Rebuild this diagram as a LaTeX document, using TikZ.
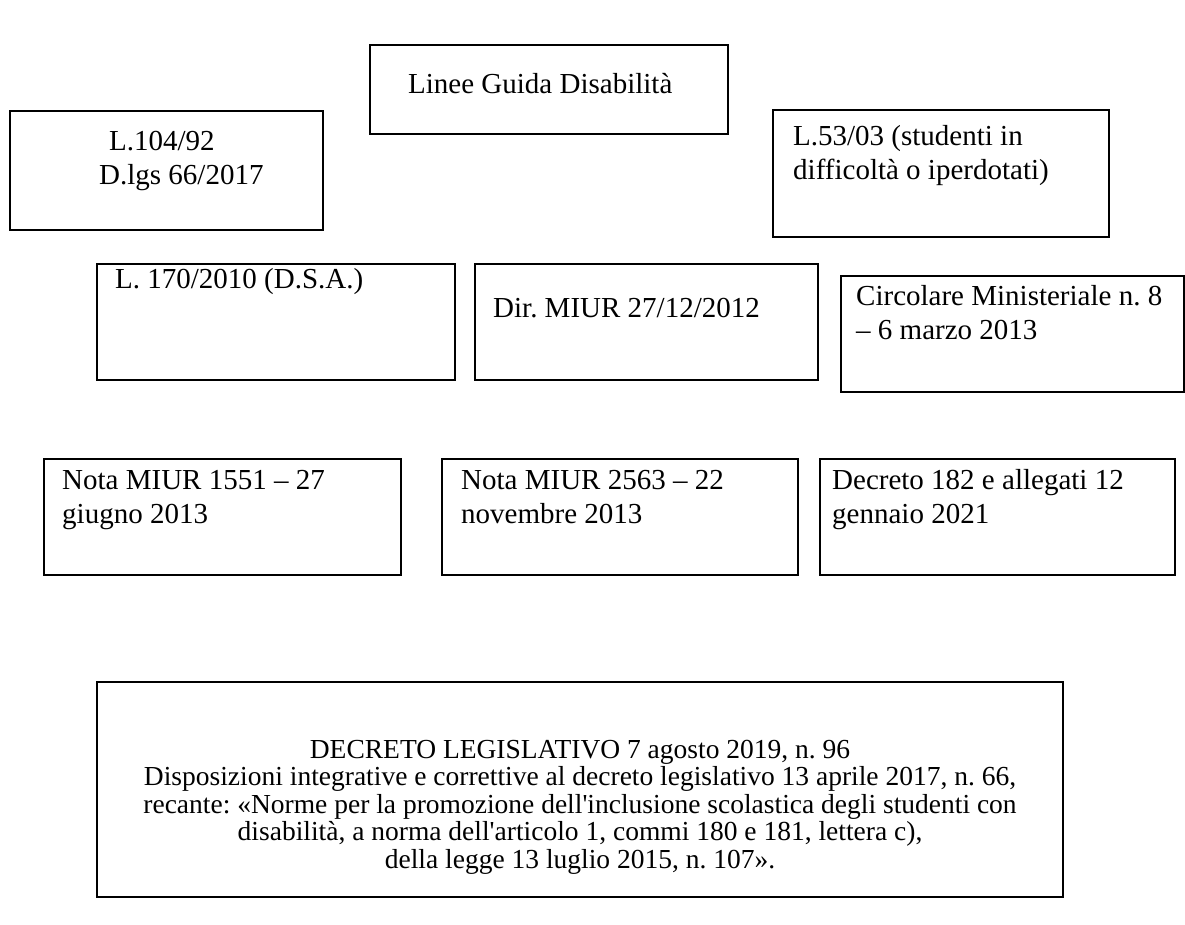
\documentclass[tikz,border=0pt]{standalone}
\usepackage{fontspec}
\newfontfamily\docfont{Liberation Serif}
\usepackage{tikz}
\frenchspacing
\newcommand{\leftlines}[1]{\begin{tabular}[t]{@{}l@{}}#1\end{tabular}}
\newcommand{\centerlines}[1]{\begin{tabular}[t]{@{}c@{}}#1\end{tabular}}
\tikzset{
	docbox/.style   = {draw, line width=1.6pt, rectangle, inner sep=0pt},
	doctext/.style  = {anchor=base west, inner sep=0pt,
		font=\docfont\fontsize{29}{34}\selectfont},
	decrtext/.style = {anchor=base, inner sep=0pt,
		font=\docfont\fontsize{27.5}{27.5}\selectfont},
}

\begin{document}
\begin{tikzpicture}[ x=1pt,                  %<--one unit is one pixel
					y=-1pt,                  %<--y grows downwards, as on the sheet
					every node/.style={scale=1} ]

	\useasboundingbox (0,0) rectangle (1185,924);

	\draw%-----------------------------------------------------------------------------------------
	%Drawing the Boxes:
	node(guida) at (549,89.5)   [docbox, minimum width=358pt, minimum height=89pt] {}
	node(l104)  at (166.5,170.5)[docbox, minimum width=313pt, minimum height=119pt] {}
	node(l53)   at (941,173.5)  [docbox, minimum width=336pt, minimum height=127pt] {}
	node(l170)  at (276,322)    [docbox, minimum width=358pt, minimum height=116pt] {}
	node(dir)   at (646.5,322)  [docbox, minimum width=343pt, minimum height=116pt] {}
	node(circ)  at (1012.5,334) [docbox, minimum width=343pt, minimum height=116pt] {}
	node(nota1) at (222.5,517)  [docbox, minimum width=357pt, minimum height=116pt] {}
	node(nota2) at (620,517)    [docbox, minimum width=356pt, minimum height=116pt] {}
	node(decr)  at (997.5,517)  [docbox, minimum width=355pt, minimum height=116pt] {}
	node(dlgs)  at (580,789.5)  [docbox, minimum width=966pt, minimum height=215pt] {}
	;%---------------------------------------------------------------------------------------------

	%Writing the Texts:
	\node[doctext] (guidaT) at (408,93)  {Linee Guida Disabilità};
	\node[doctext] (l104T)  at (99,150)  {\leftlines{\hspace*{10pt}L.104/92\\D.lgs 66/2017}};
	\node[doctext] (l53T)   at (793,145) {\leftlines{L.53/03 (studenti in\\difficoltà o iperdotati)}};
	\node[doctext] (l170T)  at (115,288) {L. 170/2010 (D.S.A.)};
	\node[doctext] (dirT)   at (493,317) {Dir. MIUR 27/12/2012};
	\node[doctext] (circT)  at (856,305) {\leftlines{Circolare Ministeriale n. 8\\– 6 marzo 2013}};
	\node[doctext] (nota1T) at (62,489)  {\leftlines{Nota MIUR 1551 – 27\\giugno 2013}};
	\node[doctext] (nota2T) at (461,489) {\leftlines{Nota MIUR 2563 – 22\\novembre 2013}};
	\node[doctext] (decrT)  at (832,489) {\leftlines{Decreto 182 e allegati 12\\gennaio 2021}};
	\node[decrtext] (dlgsT) at (580,758) {\centerlines{DECRETO LEGISLATIVO 7 agosto 2019, n. 96\\
		Disposizioni integrative e correttive al decreto legislativo 13 aprile 2017, n. 66,\\
		recante: «Norme per la promozione dell'inclusione scolastica degli studenti con\\
		disabilità, a norma dell'articolo 1, commi 180 e 181, lettera c),\\
		della legge 13 luglio 2015, n. 107».}};

\end{tikzpicture}
\end{document}
